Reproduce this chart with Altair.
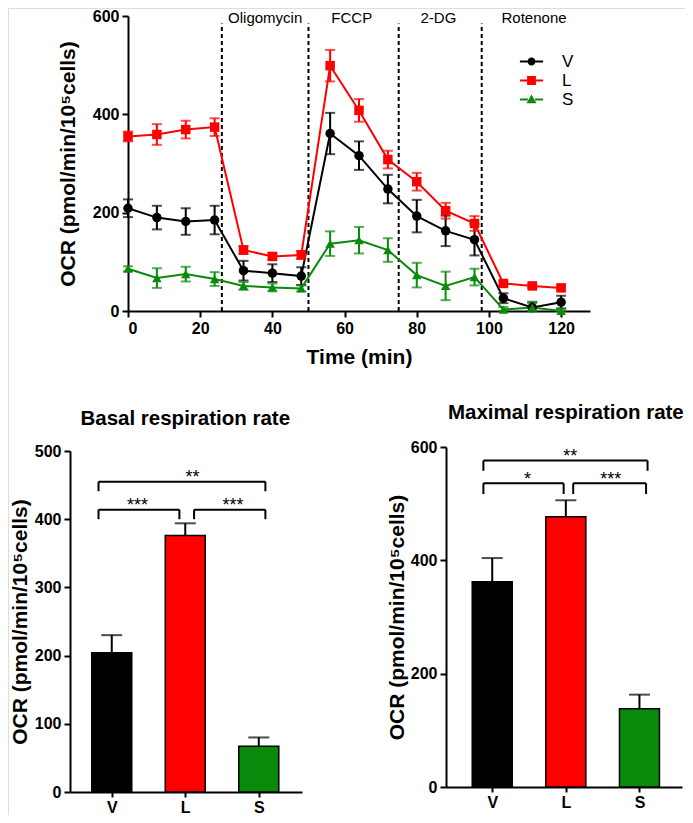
import altair as alt
import pandas as pd

FONT = "Liberation Sans"
W, H = 677, 807  # whole drawing (svg) size

# ---------------- data: time course ----------------
times = [0, 8, 16, 24, 32, 40, 48, 56, 64, 72, 80, 88, 96, 104, 112, 120]
series_names = ["V", "L", "S"]
series_colors = ["#000000", "#ff0000", "#0a8a0a"]
v_mean = [209, 190, 182, 185, 82, 77, 71, 361, 316, 248, 193, 163, 145, 26, 7, 18]
v_err = [18, 24, 27, 29, 20, 18, 18, 42, 29, 29, 33, 31, 32, 10, 10, 13]
l_mean = [355, 359, 369, 374, 124, 111, 114, 499, 408, 308, 263, 204, 178, 56, 51, 47]
l_err = [10, 21, 18, 18, 8, 6, 8, 32, 23, 18, 18, 16, 15, 5, 4, 5]
s_mean = [86, 67, 75, 65, 51, 48, 46, 137, 144, 124, 73, 51, 69, 3, 7, 0]
s_err = [5, 20, 15, 14, 8, 8, 6, 25, 27, 24, 25, 29, 17, 5, 12, 5]

injection_times = [26, 50, 75, 98]
phase_names = ["Oligomycin", "FCCP", "2-DG", "Rotenone"]
phase_label_x = [38, 62, 86, 112.5]

# ---------------- data: bar charts ----------------
groups = ["V", "L", "S"]
group_pos = [1, 2, 3]
basal_mean = [204, 376, 67]
basal_err = [26, 18, 13]
max_mean = [362, 477, 138]
max_err = [42, 29, 25]

basal_br_x1 = [0.82, 0.82, 2.12]
basal_br_x2 = [3.09, 1.92, 3.09]
basal_br_top = [455, 414, 414]
basal_br_bot = [441, 400, 400]
basal_br_label = ["**", "***", "***"]
basal_br_lx = [2.1, 1.35, 2.65]
basal_br_ly = [468, 426, 426]

max_br_x1 = [0.88, 0.88, 2.1]
max_br_x2 = [3.11, 1.97, 3.09]
max_br_top = [576, 536, 536]
max_br_bot = [558, 517, 517]
max_br_label = ["**", "*", "***"]
max_br_lx = [2.06, 1.48, 2.61]
max_br_ly = [592, 550, 550]

YTITLE = "OCR (pmol/min/10\u2075cells)"

# ---------------- tables ----------------
rows = []
for name, m, e in [("V", v_mean, v_err), ("L", l_mean, l_err), ("S", s_mean, s_err)]:
    for t, mv, ev in zip(times, m, e):
        rows.append({"time": t, "series": name, "value": mv,
                     "lo": max(mv - ev, 0), "hi": mv + ev})
ts = pd.DataFrame(rows)
inj = pd.DataFrame({"time": injection_times, "value": [0] * 4, "value2": [585] * 4})
phases = pd.DataFrame({"time": phase_label_x, "value": [596] * 4, "label": phase_names})


def axis(**kw):
    base = dict(domainColor="black", domainWidth=2, tickColor="black", tickWidth=2,
                tickSize=6, labelFont=FONT, labelFontSize=16, labelFontWeight="bold",
                labelColor="black", titleFont=FONT, titleFontSize=21,
                titleFontWeight="bold", titleColor="black", grid=False, labelPadding=3)
    base.update(kw)
    return alt.Axis(**base)


# ---------------- panel 1: time course ----------------
T_X = (120, 582)   # pixel range of the time axis
T_Y = (303, 8)     # pixel range of the OCR axis

x_axis_top = axis(values=[0, 20, 40, 60, 80, 100, 120], title="Time (min)",
                  titlePadding=10, orient="bottom", offset=T_Y[0] - H)
y_axis_top = axis(values=[0, 200, 400, 600], title=YTITLE, titlePadding=14,
                  orient="left", offset=-T_X[0])
x_scale_top = alt.Scale(domain=[0, 128], range=list(T_X), nice=False, zero=False)
y_scale_top = alt.Scale(domain=[0, 600], range=list(T_Y), nice=False)


def xt(field="time"):
    return alt.X(f"{field}:Q", scale=x_scale_top, axis=x_axis_top)


def yt(field):
    return alt.Y(f"{field}:Q", scale=y_scale_top, axis=y_axis_top)


def col(legend=None):
    return alt.Color("series:N", scale=alt.Scale(domain=series_names, range=series_colors),
                     legend=legend)


base = alt.Chart(ts)

dashed = alt.Chart(inj).mark_rule(strokeDash=[4, 3], strokeWidth=2, color="black").encode(
    x=xt(), y=yt("value"), y2="value2:Q")
phase_txt = alt.Chart(phases).mark_text(font=FONT, fontSize=15, color="black",
                                        baseline="middle").encode(
    x=xt(), y=yt("value"), text="label:N")
err_rule = base.mark_rule(strokeWidth=2).encode(x=xt(), y=yt("lo"), y2="hi:Q", color=col())
cap_lo = base.mark_tick(orient="horizontal", size=10, thickness=2).encode(
    x=xt(), y=yt("lo"), color=col())
cap_hi = base.mark_tick(orient="horizontal", size=10, thickness=2).encode(
    x=xt(), y=yt("hi"), color=col())
lines = base.mark_line(strokeWidth=2).encode(x=xt(), y=yt("value"), color=col(),
                                              detail="series:N")
points = base.mark_point(filled=True, size=90, opacity=1).encode(
    x=xt(), y=yt("value"), color=col(),
    shape=alt.Shape("series:N", scale=alt.Scale(domain=series_names,
                                                range=["circle", "square", "triangle-up"]),
                    legend=None))

seg = "M-2.9,-0.25H-0.9V0.25H-2.9Z M0.9,-0.25H2.9V0.25H0.9Z "
legend_paths = [
    seg + "M1,0A1,1 0 1,1 -1,0A1,1 0 1,1 1,0Z",
    seg + "M-1.1,-1.1H1.1V1.1H-1.1Z",
    seg + "M0,-1.25L1.25,0.95H-1.25Z",
]
leg = alt.Legend(orient="none", legendX=515, legendY=45, title=None, labelFont=FONT,
                 labelFontSize=17, labelColor="black", symbolSize=64,
                 symbolStrokeWidth=0, labelOffset=22, rowPadding=1)
legend_layer = base.transform_filter("false").mark_point(filled=True, opacity=1).encode(
    x=xt(), y=yt("value"), color=col(leg),
    shape=alt.Shape("series:N", scale=alt.Scale(domain=series_names, range=legend_paths),
                    legend=leg))

top = alt.layer(dashed, phase_txt, err_rule, cap_lo, cap_hi, lines, points,
                legend_layer).resolve_scale(color="independent", shape="independent")


# ---------------- panels 2 and 3: bar charts ----------------
def bar_panel(title, title_y, mean, err, ymax, yvals, xdom, xr, yr, tpad,
              bx1, bx2, btop, bbot, blab, blx, bly):
    df = pd.DataFrame({"group": groups, "pos": group_pos, "value": mean,
                       "hi": [m + e for m, e in zip(mean, err)]})
    segs = []
    for a, b, t, u in zip(bx1, bx2, btop, bbot):
        segs.append({"pos": a, "pos2": b, "value": t, "value2": t})
        segs.append({"pos": a, "pos2": a, "value": u, "value2": t})
        segs.append({"pos": b, "pos2": b, "value": u, "value2": t})
    segdf = pd.DataFrame(segs)
    labdf = pd.DataFrame({"pos": blx, "value": bly, "label": blab})
    ttl = pd.DataFrame({"pos": [2.0], "value": [title_y], "label": [title]})

    xa = axis(values=[1, 2, 3], title=None, orient="bottom", offset=yr[0] - H,
              labelPadding=2, tickSize=5,
              labelExpr="datum.value == 1 ? 'V' : datum.value == 2 ? 'L' : 'S'")
    ya = axis(values=yvals, title=YTITLE, titlePadding=tpad, orient="left",
              offset=-xr[0])
    xs = alt.Scale(domain=xdom, range=list(xr), nice=False, zero=False)
    ys = alt.Scale(domain=[0, ymax], range=list(yr), nice=False)

    def X(f="pos"):
        return alt.X(f"{f}:Q", scale=xs, axis=xa)

    def Y(f):
        return alt.Y(f"{f}:Q", scale=ys, axis=ya)

    b = alt.Chart(df)
    bars = b.mark_bar(size=40, stroke="black", strokeWidth=1.5, opacity=1).encode(
        x=X(), y=Y("value"),
        color=alt.Color("group:N", scale=alt.Scale(domain=groups, range=series_colors),
                        legend=None))
    er = b.mark_rule(strokeWidth=2, color="black").encode(x=X(), y=Y("value"), y2="hi:Q")
    cap = b.mark_tick(orient="horizontal", size=21, thickness=2, color="black").encode(
        x=X(), y=Y("hi"))
    br = alt.Chart(segdf).mark_rule(strokeWidth=2, color="black").encode(
        x=X(), x2="pos2:Q", y=Y("value"), y2="value2:Q")
    lab = alt.Chart(labdf).mark_text(font=FONT, fontSize=18, color="black",
                                     baseline="middle", dy=5).encode(
        x=X(), y=Y("value"), text="label:N")
    tt = alt.Chart(ttl).mark_text(font=FONT, fontSize=20.5, fontWeight="bold",
                                  color="black", baseline="middle").encode(
        x=X(), y=Y("value"), text="label:N")
    return alt.layer(bars, er, cap, br, lab, tt)


basal = bar_panel("Basal respiration rate", 547, basal_mean, basal_err, 500,
                  [0, 100, 200, 300, 400, 500], [0.5, 3.52], (62, 294), (784, 443), 4,
                  basal_br_x1, basal_br_x2, basal_br_top, basal_br_bot,
                  basal_br_label, basal_br_lx, basal_br_ly)
maximal = bar_panel("Maximal respiration rate", 660, max_mean, max_err, 600,
                    [0, 200, 400, 600], [0.44, 3.51], (438, 674), (779, 439), 3,
                    max_br_x1, max_br_x2, max_br_top, max_br_bot,
                    max_br_label, max_br_lx, max_br_ly)

chart = alt.layer(top, basal, maximal).resolve_scale(
    x="independent", y="independent", color="independent", shape="independent"
).properties(
    width=W, height=H,
    autosize=alt.AutoSizeParams(type="none"),
    padding={"left": 0, "top": 0, "right": 0, "bottom": 0},
).configure_view(stroke=None).configure(background="white")

chart.save("out.html", embed_options={"renderer": "svg", "actions": False})
